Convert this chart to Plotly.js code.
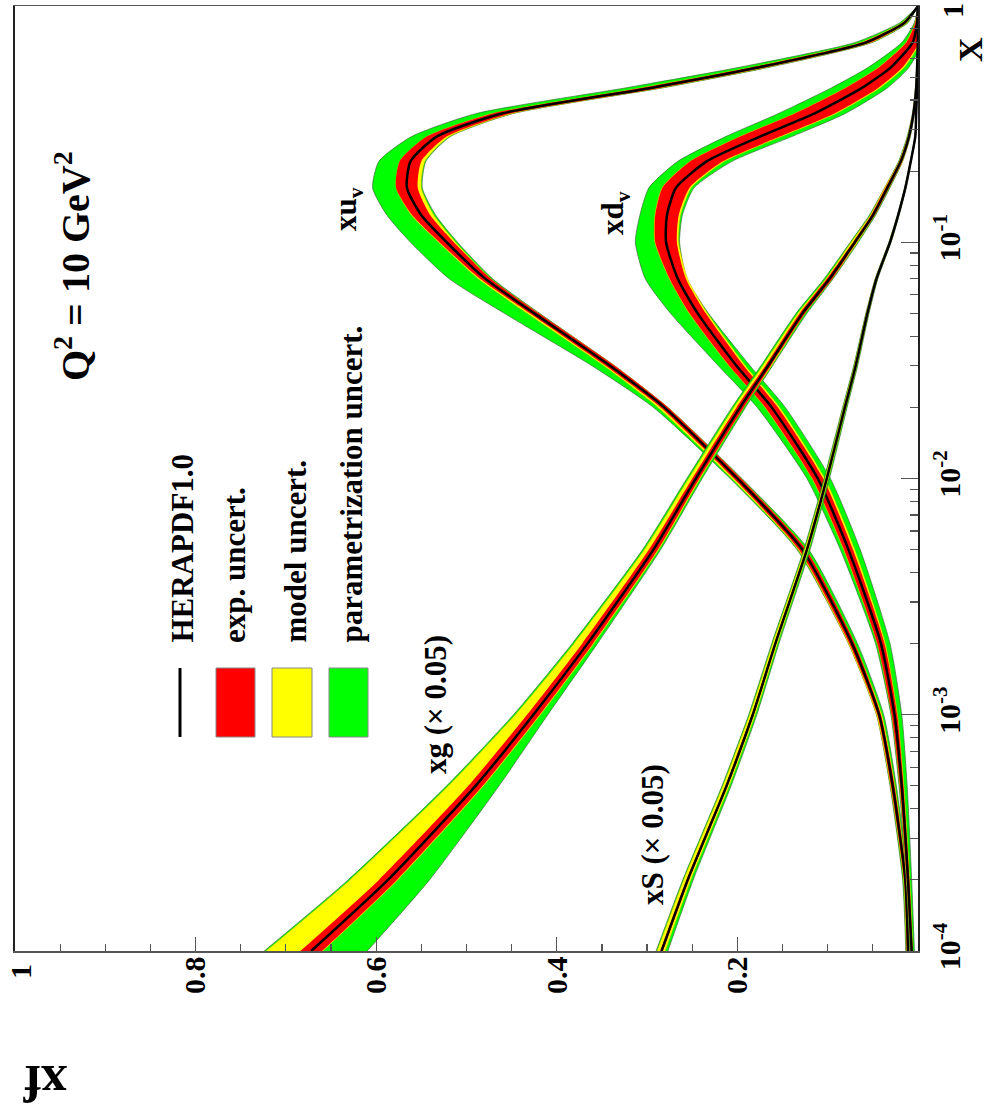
<!DOCTYPE html>
<html><head><meta charset="utf-8">
<script src="https://cdn.plot.ly/plotly-3.0.1.min.js"></script>
<style>html,body{margin:0;padding:0;background:#fff}</style>
</head><body><div id="chart" style="width:990px;height:1113px"></div>
<script>
// Bjorken x grid
const xGrid = [1e-4, 2e-4, 5e-4, 1e-3, 2e-3, 5e-3, 0.01, 0.02, 0.03, 0.05, 0.07, 0.1, 0.13, 0.17, 0.22, 0.28, 0.35, 0.45, 0.55, 0.7, 0.85, 1.0];

// xu_v
const xuvC      = [0.011, 0.014, 0.028, 0.043, 0.073, 0.128, 0.200, 0.281, 0.341, 0.425, 0.479, 0.522, 0.550, 0.566, 0.562, 0.533, 0.462, 0.296, 0.176, 0.058, 0.015, 0];
const xuvExp    = [.0015,.0015,.002,.002,.003,.004,.004,.004,.005,.005,.006,.008,.010,.012,.012,.011,.010,.010,.008,.005,.002,0];
const xuvModUp  = [.002,.002,.0025,.003,.004,.005,.006,.007,.007,.008,.008,.009,.011,.012,.012,.011,.011,.011,.009,.006,.003,0];
const xuvModDn  = [.002,.002,.0025,.003,.003,.004,.004,.004,.005,.005,.006,.010,.014,.016,.016,.014,.012,.011,.009,.006,.003,0];
const xuvTotUp  = [.0025,.003,.003,.003,.004,.006,.008,.012,.020,.033,.040,.040,.038,.038,.035,.028,.028,.028,.022,.012,.005,0];
const xuvTotDn  = [.003,.003,.004,.005,.006,.007,.005,.004,.005,.006,.008,.012,.016,.017,.017,.015,.013,.013,.011,.007,.004,0];

// xd_v
const xdvC      = [0.007, 0.011, 0.018, 0.026, 0.041, 0.077, 0.111, 0.162, 0.201, 0.244, 0.266, 0.279, 0.278, 0.268, 0.234, 0.175, 0.115, 0.062, 0.030, 0.006, 0.001, 0];
const xdvExp    = [.001,.0015,.002,.003,.004,.005,.006,.007,.008,.009,.009,.012,.013,.015,.018,.022,.022,.018,.013,.007,.002,0];
const xdvModUp  = [.0012,.0017,.0022,.0032,.0042,.0055,.0065,.0075,.0085,.0095,.0095,.0125,.0135,.0155,.0185,.0225,.0225,.0185,.0135,.0075,.0022,0];
const xdvModDn  = [.0015,.002,.0025,.0035,.005,.007,.008,.009,.010,.011,.011,.014,.015,.017,.020,.024,.024,.020,.015,.008,.0025,0];
const xdvTotUp  = [.002,.002,.003,.004,.006,.009,.012,.016,.020,.030,.036,.034,.030,.030,.032,.038,.040,.034,.025,.012,.003,0];
const xdvTotDn  = [.003,.004,.006,.008,.010,.013,.014,.015,.015,.012,.010,.015,.017,.020,.028,.035,.034,.028,.020,.010,.003,0];

// xg (x 0.05)
const xgC       = [0.672, 0.587, 0.490, 0.426, 0.366, 0.293, 0.246, 0.197, 0.166, 0.128, 0.098, 0.070, 0.050, 0.034, 0.019, 0.010, 0.005, 0.002, 0.001, 0, 0, 0];
const xgExp     = [.012,.010,.008,.007,.006,.005,.004,.004,.003,.003,.003,.002,.002,.002,.0015,.001,.001,.0005,.0003,0,0,0];
const xgModUp   = [.050,.042,.030,.020,.015,.010,.008,.007,.006,.005,.004,.004,.003,.003,.002,.0015,.001,.0007,.0004,0,0,0];
const xgModDn   = [.013,.011,.009,.008,.007,.006,.005,.004,.004,.003,.003,.003,.002,.002,.002,.0012,.001,.0006,.0003,0,0,0];
const xgTotUp   = [.052,.044,.032,.022,.017,.012,.010,.009,.008,.007,.006,.005,.004,.003,.0025,.002,.0012,.0008,.0005,0,0,0];
const xgTotDn   = [.062,.046,.026,.016,.011,.008,.007,.006,.005,.005,.004,.004,.003,.003,.002,.0015,.001,.0007,.0004,0,0,0];

// xS (x 0.05)
const xSC       = [0.284, 0.255, 0.212, 0.183, 0.158, 0.123, 0.101, 0.081, 0.069, 0.056, 0.046, 0.031, 0.022, 0.014, 0.008, 0.003, 0.002, 0.001, 0.0003, 0, 0, 0];
const xSExp     = [.0015,.0015,.0013,.0012,.001,.001,.001,.0008,.0008,.0007,.0006,.0005,.0004,.0003,.0002,.0001,0,0,0,0,0,0];
const xSModUp   = [.005,.0045,.004,.0035,.003,.0025,.002,.0018,.0016,.0014,.0012,.001,.0008,.0006,.0004,.0002,.0001,0,0,0,0,0];
const xSModDn   = [.004,.0035,.003,.0028,.0025,.002,.0018,.0016,.0014,.0012,.001,.0008,.0006,.0005,.0003,.0002,.0001,0,0,0,0,0];
const xSTotUp   = [.006,.0055,.005,.0045,.004,.0035,.003,.0025,.0022,.0018,.0015,.0012,.001,.0008,.0005,.0003,.0001,0,0,0,0,0];
const xSTotDn   = [.007,.006,.005,.0045,.004,.0035,.003,.0025,.0022,.0018,.0015,.0012,.001,.0008,.0005,.0003,.0001,0,0,0,0,0];

// axis ticks (the "1" end labels are placed as annotations so they stay inside the page)
const xfTickVals = [1, 0.8, 0.6, 0.4, 0.2, 0];
const xfTickText = ['', '0.8', '0.6', '0.4', '0.2', ''];
const xTickVals = [1e-4, 1e-3, 1e-2, 1e-1, 1];
const xTickText = ['10<sup>-4</sup>', '10<sup>-3</sup>', '10<sup>-2</sup>', '10<sup>-1</sup>', ''];
const xMinorVals = [];
[1e-4, 1e-3, 1e-2, 1e-1].forEach(d => { for (let k = 2; k <= 9; k++) xMinorVals.push(d * k); });

const FONT = "Liberation Serif, 'Times New Roman', serif";
const traces = [];
const SM = 0.6;

function bandTrace(c, dn, up, fill, lineColor, lineW) {
  const lo = c.map((v, i) => v - dn[i]);
  const hi = c.map((v, i) => v + up[i]);
  return {
    type: 'scatter', mode: 'lines', fill: 'toself', fillcolor: fill,
    x: lo.concat(hi.slice().reverse()),
    y: xGrid.concat(xGrid.slice().reverse()),
    line: {color: lineColor, width: lineW, shape: 'spline', smoothing: SM},
    hoverinfo: 'skip', showlegend: false
  };
}
function addPdf(c, exp, modUp, modDn, totUp, totDn) {
  traces.push(bandTrace(c, totDn, totUp, '#00ff00', '#3a6b3a', 0.7));
  traces.push(bandTrace(c, modDn, modUp, '#ffff00', '#c8a000', 0.4));
  traces.push(bandTrace(c, exp, exp, '#ff0000', '#ff0000', 0));
  traces.push({type: 'scatter', mode: 'lines', x: c, y: xGrid,
    line: {color: '#000', width: 2.5, shape: 'spline', smoothing: SM},
    hoverinfo: 'skip', showlegend: false});
}
addPdf(xuvC, xuvExp, xuvModUp, xuvModDn, xuvTotUp, xuvTotDn);
addPdf(xdvC, xdvExp, xdvModUp, xdvModDn, xdvTotUp, xdvTotDn);
addPdf(xgC, xgExp, xgModUp, xgModDn, xgTotUp, xgTotDn);
addPdf(xSC, xSExp, xSModUp, xSModDn, xSTotUp, xSTotDn);

// pixel -> paper helpers (plot area: x 15..918, y 6..951)
const xp = px => (px - 15) / 903;
const yp = py => (951 - py) / 945;

function ann(text, px, py, size, angle, xa, ya) {
  return {text: '<b>' + text + '</b>', xref: 'paper', yref: 'paper', x: xp(px), y: yp(py),
    showarrow: false, textangle: angle, xanchor: xa || 'center', yanchor: ya || 'middle',
    font: {family: FONT, size: size, color: '#000'}};
}

const annotations = [
  ann('Q<sup>2</sup> = 10 GeV<sup>2</sup>', 72, 266, 40, -90),
  ann('xu<sub>v</sub>', 348, 209, 31, -90),
  ann('xd<sub>v</sub>', 615, 213, 31, -90),
  ann('xg (× 0.05)', 435, 705, 31, -90),
  ann('xS (× 0.05)', 652, 835, 31, -90),
  ann('HERAPDF1.0', 182, 645, 31, -90, 'center', 'bottom'),
  ann('exp. uncert.', 234, 645, 31, -90, 'center', 'bottom'),
  ann('model uncert.', 295, 645, 31, -90, 'center', 'bottom'),
  ann('parametrization uncert.', 351, 645, 31, -90, 'center', 'bottom'),
  ann('1', 21, 972, 30, -90),
  ann('1', 952, 11, 30, -90),
  ann('X', 970, 50, 34, -90),
  ann('xf', 45, 1084, 52, 180)
];

const shapes = [
  {type: 'line', xref: 'paper', yref: 'paper', x0: xp(180), x1: xp(180), y0: yp(737), y1: yp(668), line: {color: '#000', width: 3}},
  {type: 'rect', xref: 'paper', yref: 'paper', x0: xp(216), x1: xp(255), y0: yp(737), y1: yp(668), fillcolor: '#ff0000', line: {color: '#888', width: 1}},
  {type: 'rect', xref: 'paper', yref: 'paper', x0: xp(272), x1: xp(312), y0: yp(737), y1: yp(668), fillcolor: '#ffff00', line: {color: '#888', width: 1}},
  {type: 'rect', xref: 'paper', yref: 'paper', x0: xp(329), x1: xp(368), y0: yp(737), y1: yp(668), fillcolor: '#00ff00', line: {color: '#888', width: 1}}
];

const layout = {
  width: 990, height: 1113,
  margin: {l: 15, r: 72, t: 6, b: 162},
  paper_bgcolor: '#fff', plot_bgcolor: '#fff',
  showlegend: false,
  xaxis: {
    range: [1, 0], showgrid: false, zeroline: false,
    showline: true, mirror: true, linecolor: '#555', linewidth: 1.5,
    tickmode: 'array', tickvals: xfTickVals, ticktext: xfTickText.map(t => t ? '<b>' + t + '</b>' : ''),
    ticks: 'inside', ticklen: 14, tickwidth: 1.2, tickcolor: '#555',
    minor: {ticks: 'inside', dtick: 0.05, tick0: 0, ticklen: 7, tickwidth: 1.2, tickcolor: '#555'},
    tickangle: -90, ticklabelstandoff: -8, ticklabeloverflow: 'allow',
    tickfont: {family: FONT, size: 30, color: '#000'}
  },
  yaxis: {
    type: 'log', range: [-4, 0], side: 'right', showgrid: false, zeroline: false,
    showline: true, mirror: true, linecolor: '#222', linewidth: 2,
    tickmode: 'array', tickvals: xTickVals, ticktext: xTickText.map(t => t ? '<b>' + t + '</b>' : ''),
    ticks: 'inside', ticklen: 17, tickwidth: 1.2, tickcolor: '#555',
    minor: {ticks: 'inside', tickmode: 'array', tickvals: xMinorVals, ticklen: 8, tickwidth: 1.2, tickcolor: '#555'},
    tickangle: -90, ticklabelstandoff: 4, ticklabeloverflow: 'allow',
    tickfont: {family: FONT, size: 30, color: '#000'}
  },
  annotations: annotations,
  shapes: shapes
};

Plotly.newPlot('chart', traces, layout, {staticPlot: true, displayModeBar: false});
</script>
</body></html>
